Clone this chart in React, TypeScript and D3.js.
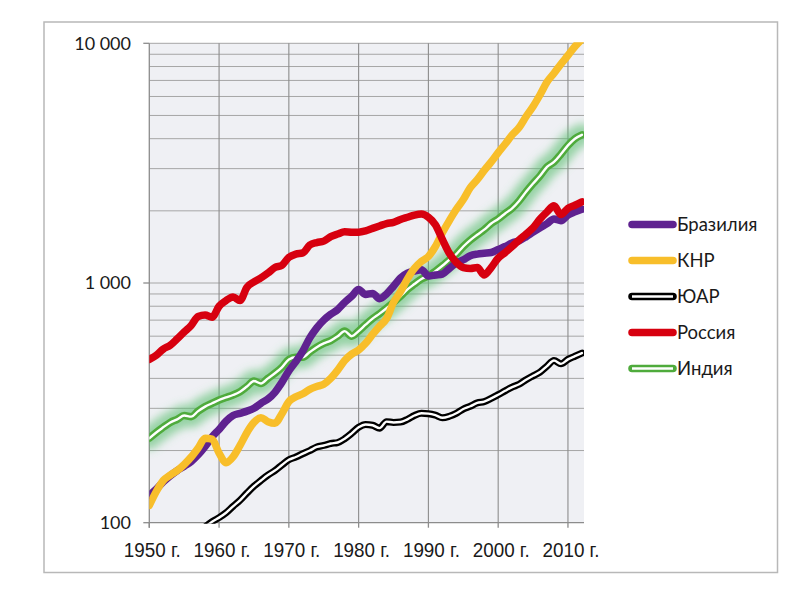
import React from 'react';
import * as d3 from 'd3';

const years: number[] = d3.range(1950, 2013);

const brazil: number[] = [
  130, 138, 148, 157, 165, 172, 180, 192, 208, 228,
  245, 265, 280, 286, 292, 300, 315, 328, 350, 385,
  430, 470, 520, 590, 650, 700, 740, 775, 830, 880,
  940, 895, 905, 860, 900, 970, 1050, 1100, 1120, 1135,
  1070, 1080, 1090, 1150, 1210, 1250, 1300, 1320, 1330, 1340,
  1380, 1420, 1470, 1500, 1560, 1630, 1700, 1770, 1850, 1820,
  1920, 1980, 2030,
];

const china: number[] = [
  118, 135, 150, 158, 165, 175, 188, 205, 225, 223,
  195, 178, 188, 210, 238, 262, 274, 264, 260, 285,
  320, 335, 345, 360, 370, 378, 400, 433, 475, 505,
  525, 560, 610, 660, 710, 830, 920, 1040, 1150, 1230,
  1290, 1420, 1620, 1820, 2030, 2230, 2500, 2700, 2950, 3200,
  3500, 3800, 4150, 4450, 4950, 5450, 6100, 6900, 7500, 8200,
  8900, 9700, 10400,
];

const southAfrica: (number | null)[] = [
  null, null, null, null, null, null, null, null, 96, 101,
  105, 110, 117, 124, 133, 142, 150, 158, 165, 174,
  183, 188, 194, 200, 207, 210, 214, 216, 224, 236,
  250, 257, 255, 248, 264, 262, 263, 270, 280, 286,
  285, 281, 274, 278, 286, 298, 306, 316, 320, 330,
  342, 355, 368, 378, 395, 410, 425, 450, 475, 460,
  480, 495, 510,
];

const russia: number[] = [
  480, 500, 530, 550, 585, 625, 665, 725, 735, 720,
  800, 845, 875, 845, 960, 1010, 1050, 1100, 1160, 1185,
  1280, 1320, 1335, 1440, 1475, 1495, 1560, 1600, 1635, 1630,
  1630, 1650, 1690, 1730, 1770, 1790, 1840, 1880, 1920, 1940,
  1880, 1750, 1520, 1330, 1220, 1160, 1150, 1160, 1080, 1160,
  1270, 1340, 1420, 1510, 1600, 1700, 1850, 1980, 2100, 1930,
  2050, 2110, 2180,
];

const india: number[] = [
  225, 238, 250, 262, 270, 280, 277, 292, 305, 315,
  325, 333, 341, 352, 370, 390, 381, 400, 420, 445,
  480, 490, 490, 515, 540, 560, 575, 600, 630, 600,
  630, 670, 710, 745, 785, 830, 880, 940, 990, 1040,
  1070, 1120, 1180, 1250, 1320, 1420, 1510, 1590, 1670, 1770,
  1850, 1950, 2050, 2200, 2400, 2600, 2800, 3050, 3200, 3450,
  3750, 4000, 4150,
];

const seriesNames = ['Бразилия', 'КНР', 'ЮАР', 'Россия', 'Индия'];
const xTickYears = [1950, 1960, 1970, 1980, 1990, 2000, 2010];
const yTickValues = [100, 1000, 10000];
const yTickLabels = ['100', '1 000', '10 000'];
const yGridValues = [
  200, 300, 400, 500, 600, 700, 800, 900, 1000,
  2000, 3000, 4000, 5000, 6000, 7000, 8000, 9000, 10000,
];

const W = 800;
const H = 589;
const left = 149.3;
const right = 584;
const top = 43.3;
const bottom = 522.7;

export default function App() {
  const x = d3.scaleLinear().domain([1950, 2012.3]).range([left, right]);
  const y = d3.scaleLog().domain([100, 10000]).range([bottom, top]);

  const line = d3
    .line<number | null>()
    .defined((d) => d != null)
    .x((_, i) => x(years[i]))
    .y((d) => y(d as number))
    .curve(d3.curveMonotoneX);

  const series = [
    { name: seriesNames[0], data: brazil, kind: 'solid', color: '#5f2290' },
    { name: seriesNames[1], data: china, kind: 'solid', color: '#f8be2a' },
    { name: seriesNames[2], data: southAfrica, kind: 'double', color: '#000000' },
    { name: seriesNames[3], data: russia, kind: 'solid', color: '#d7000f' },
    { name: seriesNames[4], data: india, kind: 'glow', color: '#4fab3c' },
  ];
  // drawing order: India underneath the others
  const drawOrder = [series[4], series[0], series[1], series[2], series[3]];

  const legendX1 = 632;
  const legendX2 = 673;
  const legendY0 = 224.5;
  const legendStep = 36;

  return (
    <svg
      width={W}
      height={H}
      style={{ position: 'absolute', left: 0, top: 0, background: '#ffffff' }}
    >
      <defs>
        <clipPath id="plotClip">
          <rect x={left} y={top - 1} width={right - left} height={bottom - top + 2} />
        </clipPath>
        <filter id="glow" x="-20%" y="-20%" width="140%" height="140%">
          <feGaussianBlur stdDeviation="4" />
        </filter>
      </defs>
      <rect x={0} y={0} width={W} height={H} fill="#ffffff" />
      <rect x={44} y={22} width={733.5} height={550.5} fill="none" stroke="#b8b8b8" strokeWidth={1.5} />

      <rect x={left} y={top} width={right - left} height={bottom - top} fill="#eff0f4" />

      {yGridValues.map((v) => (
        <line key={'hg' + v} x1={left} x2={right} y1={y(v)} y2={y(v)} stroke="#a6a6a6" strokeWidth={1} />
      ))}
      {xTickYears.slice(1).map((yr) => (
        <line key={'vg' + yr} x1={x(yr)} x2={x(yr)} y1={top} y2={bottom} stroke="#8c8c8c" strokeWidth={1.1} />
      ))}

      <line x1={left} x2={left} y1={top} y2={bottom + 5} stroke="#8c8c8c" strokeWidth={1.3} />
      <line x1={left} x2={right} y1={bottom} y2={bottom} stroke="#8c8c8c" strokeWidth={1.3} />
      {yTickValues.map((v) => (
        <line key={'yt' + v} x1={left - 6} x2={left} y1={y(v)} y2={y(v)} stroke="#8c8c8c" strokeWidth={1.3} />
      ))}
      {xTickYears.map((yr) => (
        <line key={'xt' + yr} x1={x(yr)} x2={x(yr)} y1={bottom} y2={bottom + 5} stroke="#8c8c8c" strokeWidth={1.3} />
      ))}

      {yTickValues.map((v, i) => (
        <text
          key={'yl' + v}
          x={131}
          y={y(v)}
          dy="0.36em"
          textAnchor="end"
          fontFamily="Lato, 'Noto Sans', sans-serif"
          fontSize={18}
          fill="#1a1a1a"
        >
          {yTickLabels[i]}
        </text>
      ))}
      {xTickYears.map((yr) => (
        <text
          key={'xl' + yr}
          x={x(yr) + 3}
          y={557}
          textAnchor="middle"
          fontFamily="'Liberation Sans', Arial, sans-serif"
          fontSize={20.5}
          textLength={57}
          lengthAdjust="spacingAndGlyphs"
          fill="#1a1a1a"
        >
          {yr + ' г.'}
        </text>
      ))}

      <g clipPath="url(#plotClip)" fill="none" strokeLinecap="round" strokeLinejoin="round">
        {drawOrder.map((s) => {
          const d = line(s.data) || '';
          if (s.kind === 'solid') {
            return <path key={s.name} d={d} stroke={s.color} strokeWidth={7.5} />;
          }
          if (s.kind === 'double') {
            return (
              <g key={s.name}>
                <path d={d} stroke={s.color} strokeWidth={7} />
                <path d={d} stroke="#ffffff" strokeWidth={2.4} />
              </g>
            );
          }
          return (
            <g key={s.name}>
              <path d={d} stroke="#5cc06f" strokeWidth={22} strokeOpacity={0.6} filter="url(#glow)" />
              <path d={d} stroke={s.color} strokeWidth={7.5} />
              <path d={d} stroke="#ffffff" strokeWidth={2.4} />
            </g>
          );
        })}
      </g>

      {series.map((s, i) => {
        const ly = legendY0 + i * legendStep;
        return (
          <g key={'lg' + s.name}>
            <line x1={legendX1} x2={legendX2} y1={ly} y2={ly} stroke={s.color} strokeWidth={7.5} strokeLinecap="round" />
            {s.kind !== 'solid' && (
              <line x1={legendX1} x2={legendX2} y1={ly} y2={ly} stroke="#ffffff" strokeWidth={2.4} />
            )}
            <text
              x={legendX2 + 4}
              y={ly}
              dy="0.36em"
              fontFamily="Lato, 'Noto Sans', sans-serif"
              fontSize={18.5}
              fill="#1a1a1a"
            >
              {s.name}
            </text>
          </g>
        );
      })}
    </svg>
  );
}
